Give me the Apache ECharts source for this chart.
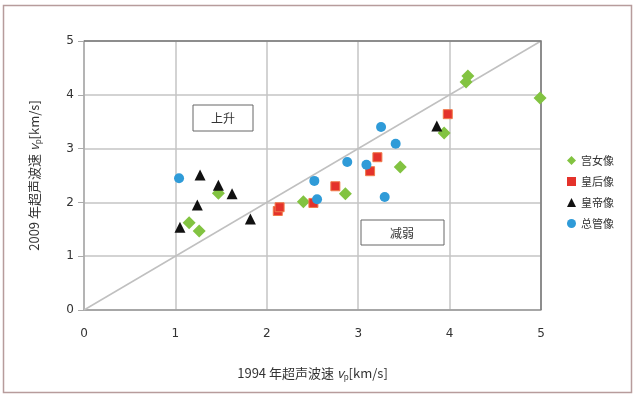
<!DOCTYPE html>
<html>
<head>
<meta charset="utf-8">
<script src="https://cdn.jsdelivr.net/npm/echarts@6/dist/echarts.min.js"></script>
<style>
  html, body { margin: 0; padding: 0; background: #fff; }
  #chart-container { width: 637px; height: 397px; }
</style>
</head>
<body>
<div id="chart-container"></div>
<script>
// 数据：[1994年波速, 2009年波速]
const gongnv = [[1.15, 1.62], [1.26, 1.47], [1.47, 2.17], [2.40, 2.01], [2.86, 2.16], [3.46, 2.66], [3.94, 3.29], [4.18, 4.24], [4.20, 4.35], [4.99, 3.94]];
const huanghou = [[2.12, 1.84], [2.14, 1.91], [2.51, 1.99], [2.75, 2.30], [3.13, 2.58], [3.21, 2.84], [3.98, 3.64]];
const huangdi = [[1.05, 1.54], [1.24, 1.95], [1.27, 2.51], [1.47, 2.32], [1.62, 2.16], [1.82, 1.69], [3.86, 3.42]];
const zongguan = [[1.04, 2.45], [2.52, 2.40], [2.55, 2.06], [2.88, 2.75], [3.09, 2.70], [3.25, 3.40], [3.29, 2.10], [3.41, 3.09]];
const diagonal = [[0, 0], [5, 5]];
const seriesNames = ['宫女像', '皇后像', '皇帝像', '总管像'];

document.addEventListener('DOMContentLoaded', () => {
    const chart = echarts.init(document.getElementById('chart-container'));
    const cjk = '"Noto Sans CJK SC", "DejaVu Sans", sans-serif';
    const nameRich = {
        i: { fontStyle: 'italic', fontSize: 13, color: '#333', fontFamily: cjk },
        sub: { fontSize: 8, color: '#333', verticalAlign: 'bottom', padding: [7, 0, 0, 0], fontFamily: cjk }
    };

    const option = {
        animation: false,
        grid: { left: 84, right: 96, top: 41, bottom: 87 },
        graphic: [
            { type: 'rect', shape: { x: 3.5, y: 5.5, width: 628, height: 387 },
              style: { fill: 'none', stroke: '#b79c9c', lineWidth: 1.5 }, silent: true },
            { type: 'rect', shape: { x: 193, y: 105, width: 60, height: 26 },
              style: { fill: '#fff', stroke: '#666', lineWidth: 1 }, z: 10 },
            { type: 'text', x: 223, y: 118, z: 11,
              style: { text: '上升', fill: '#333', font: '12px ' + cjk, align: 'center', verticalAlign: 'middle' } },
            { type: 'rect', shape: { x: 361, y: 220, width: 83, height: 25 },
              style: { fill: '#fff', stroke: '#666', lineWidth: 1 }, z: 10 },
            { type: 'text', x: 402, y: 233, z: 11,
              style: { text: '减弱', fill: '#333', font: '12px ' + cjk, align: 'center', verticalAlign: 'middle' } }
        ],
        legend: {
            orient: 'vertical',
            left: 562,
            top: 150,
            itemWidth: 9,
            itemHeight: 9,
            itemGap: 10,
            data: seriesNames,
            itemStyle: { borderWidth: 0 },
            textStyle: { fontSize: 11, color: '#333', fontFamily: cjk }
        },
        xAxis: {
            type: 'value',
            min: 0, max: 5, interval: 1,
            name: '1994 年超声波速 {i|v}{sub|p}[km/s]',
            nameLocation: 'middle',
            nameGap: 56,
            nameTextStyle: { fontSize: 13, color: '#333', fontFamily: cjk, rich: nameRich },
            axisLine: { show: true, lineStyle: { color: '#999', width: 1.5 } },
            axisTick: { show: false },
            axisLabel: { color: '#333', fontSize: 12, margin: 18, fontFamily: '"DejaVu Sans", sans-serif' },
            splitLine: { show: true, lineStyle: { color: '#c4c4c4', width: 1.5 } }
        },
        yAxis: {
            type: 'value',
            min: 0, max: 5, interval: 1,
            name: '2009 年超声波速 {i|v}{sub|p}[km/s]',
            nameLocation: 'middle',
            nameGap: 42,
            nameTextStyle: { fontSize: 13, color: '#333', fontFamily: cjk, rich: nameRich },
            axisLine: { show: true, lineStyle: { color: '#aaa', width: 1.5 } },
            axisTick: { show: true, length: 6, inside: false, lineStyle: { color: '#aaa' } },
            axisLabel: { color: '#333', fontSize: 12, margin: 10, fontFamily: '"DejaVu Sans", sans-serif' },
            splitLine: { show: true, lineStyle: { color: '#c4c4c4', width: 1.5 } }
        },
        series: [
            {
                name: 'diag', type: 'line', data: diagonal, showSymbol: false, silent: true,
                lineStyle: { color: '#c0c0c0', width: 1.5 }, z: 1
            },
            {
                name: seriesNames[0], type: 'scatter', data: gongnv, symbol: 'diamond', symbolSize: 13,
                itemStyle: { color: '#82c341', opacity: 1 }, z: 5
            },
            {
                name: seriesNames[1], type: 'scatter', data: huanghou, symbol: 'rect', symbolSize: 9,
                itemStyle: { color: '#e4322b', borderColor: '#f07a4a', borderWidth: 1, opacity: 1 }, z: 5
            },
            {
                name: seriesNames[2], type: 'scatter', data: huangdi, symbol: 'triangle', symbolSize: 11,
                itemStyle: { color: '#111', opacity: 1 }, z: 5
            },
            {
                name: seriesNames[3], type: 'scatter', data: zongguan, symbol: 'circle', symbolSize: 10,
                itemStyle: { color: '#2f9bd8', opacity: 1 }, z: 5
            }
        ]
    };

    chart.setOption(option);

    // 绘图区顶部和右侧的边框
    const p0 = chart.convertToPixel({ gridIndex: 0 }, [0, 5]);
    const p1 = chart.convertToPixel({ gridIndex: 0 }, [5, 0]);
    chart.setOption({
        graphic: option.graphic.concat([
            { type: 'polyline', shape: { points: [[p0[0], p0[1]], [p1[0], p0[1]], [p1[0], p1[1]]] },
              style: { fill: 'none', stroke: '#777', lineWidth: 1.5 }, silent: true, z: 3 }
        ])
    });
});
</script>
</body>
</html>
